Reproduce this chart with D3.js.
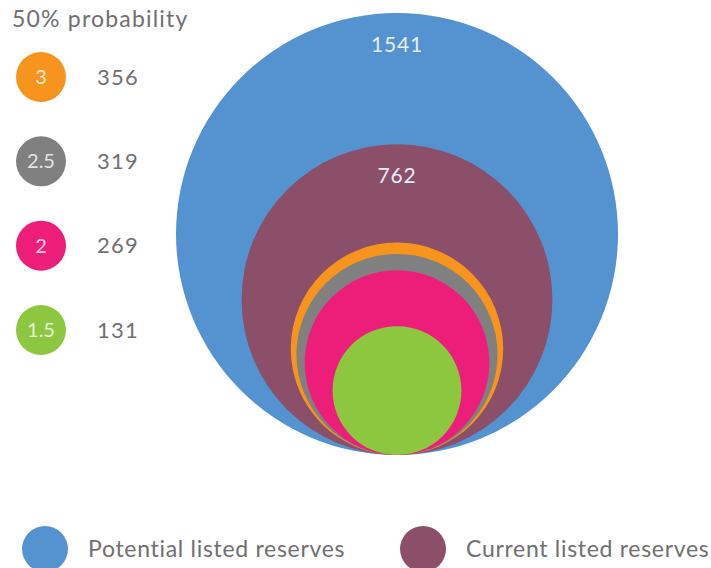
<!DOCTYPE html>
<html>
<head>
<meta charset="utf-8">
<script src="https://cdn.jsdelivr.net/npm/d3@7"></script>
<style>
  body { margin: 0; background: #fff; }
  svg { display: block; font-family: Lato, "Open Sans", sans-serif; font-weight: 400; }
</style>
</head>
<body>
<div id="chart"></div>
<script>
// 데이터
const reserves = ["Potential listed reserves", "Current listed reserves"];
const reserveValues = [1541, 762];
const reserveColors = ["#5592d0", "#8c4f6a"];

const scenarios = ["3", "2.5", "2", "1.5"];
const scenarioValues = [356, 319, 269, 131];
const scenarioColors = ["#f7941d", "#808080", "#ed1e79", "#8dc63f"];

const width = 711, height = 568;

const svg = d3.select("#chart").append("svg")
  .attr("width", width)
  .attr("height", height);

// 면적 비례 반지름
const r = d3.scaleSqrt().domain([0, 1541]).range([0, 221]);

const cx = 397, baseY = 455;

const all = reserveValues.map((v, i) => ({ v, color: reserveColors[i], label: true }))
  .concat(scenarioValues.map((v, i) => ({ v, color: scenarioColors[i], label: false })));

svg.selectAll("circle.nest")
  .data(all)
  .join("circle")
  .attr("class", "nest")
  .attr("cx", cx)
  .attr("cy", d => baseY - r(d.v))
  .attr("r", d => r(d.v))
  .attr("fill", d => d.color);

svg.selectAll("text.nestlabel")
  .data(all.filter(d => d.label))
  .join("text")
  .attr("class", "nestlabel")
  .attr("x", cx)
  .attr("y", d => baseY - 2 * r(d.v) + 39)
  .attr("text-anchor", "middle")
  .attr("font-size", 21)
  .attr("letter-spacing", 0.8)
  .attr("fill", "#e6edf7")
  .text(d => d.v);

// 제목
svg.append("text")
  .attr("x", 12)
  .attr("y", 27)
  .attr("font-size", 23)
  .attr("letter-spacing", 1.2)
  .attr("fill", "#707070")
  .text("50% probability");

// 왼쪽 범례
const y = d3.scalePoint().domain(scenarios).range([77, 330]);

const item = svg.selectAll("g.scen")
  .data(scenarios)
  .join("g")
  .attr("class", "scen")
  .attr("transform", d => `translate(41,${y(d)})`);

item.append("circle")
  .attr("r", 25)
  .attr("fill", (d, i) => scenarioColors[i]);

item.append("text")
  .attr("text-anchor", "middle")
  .attr("dy", "0.35em")
  .attr("font-size", 20)
  .attr("fill", "#ffffff")
  .attr("fill-opacity", 0.8)
  .text(d => d);

item.append("text")
  .attr("x", 56)
  .attr("dy", "0.35em")
  .attr("font-size", 22)
  .attr("letter-spacing", 1.2)
  .attr("fill", "#707070")
  .text((d, i) => scenarioValues[i]);

// 아래 범례
const lx = [45, 423];
const leg = svg.selectAll("g.res")
  .data(reserves)
  .join("g")
  .attr("class", "res")
  .attr("transform", (d, i) => `translate(${lx[i]},549)`);

leg.append("circle")
  .attr("r", 23)
  .attr("fill", (d, i) => reserveColors[i]);

leg.append("text")
  .attr("x", 43)
  .attr("dy", "0.35em")
  .attr("font-size", 23)
  .attr("letter-spacing", 0.7)
  .attr("fill", "#707070")
  .text(d => d);
</script>
</body>
</html>
